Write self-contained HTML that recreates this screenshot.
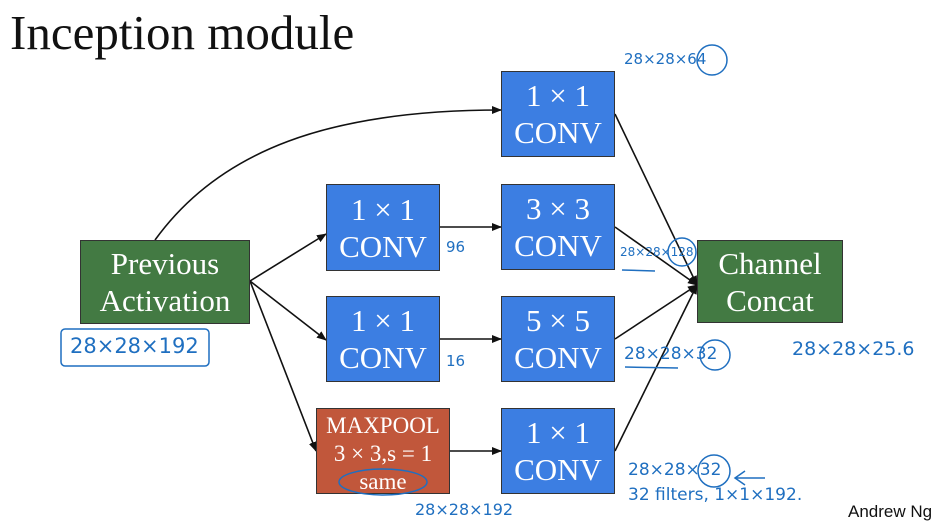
<!DOCTYPE html>
<html><head><meta charset="utf-8"><style>
body{margin:0;background:#fff;width:939px;height:525px;overflow:hidden;position:relative;font-family:"Liberation Serif",serif}
.b{position:absolute;color:#fff;text-align:center;display:flex;flex-direction:column;justify-content:center;box-sizing:border-box;border:1px solid #333;font-size:31px;line-height:37px}
.bl{background:#3c7ee2}
.g{background:#437a43}
.r{background:#c1573b;font-size:23px;line-height:28px}
.h{position:absolute;color:#1f6fc0;font-family:"DejaVu Sans",sans-serif;font-size:15px;white-space:nowrap}
</style></head><body>
<div style="position:absolute;left:10px;top:4px;font-size:49px;color:#111">Inception module</div>
<svg width="939" height="525" style="position:absolute;left:0;top:0">
<defs><marker id="a" markerWidth="10" markerHeight="8" refX="9" refY="4" orient="auto" markerUnits="userSpaceOnUse"><path d="M0,0L10,4L0,8z" fill="#111"/></marker></defs>
<g stroke="#111" stroke-width="1.6" fill="none" marker-end="url(#a)">
<path d="M155,240 C220,150 330,110 501,110"/>
<line x1="250" y1="281" x2="326" y2="234"/>
<line x1="250" y1="281" x2="326" y2="340"/>
<line x1="250" y1="281" x2="316" y2="451"/>
<line x1="440" y1="227" x2="501" y2="227"/>
<line x1="440" y1="339" x2="501" y2="339"/>
<line x1="450" y1="451" x2="501" y2="451"/>
<line x1="615" y1="114" x2="697" y2="285"/>
<line x1="615" y1="227" x2="697" y2="285"/>
<line x1="615" y1="339" x2="697" y2="285"/>
<line x1="615" y1="451" x2="697" y2="285"/>
</g>
<g stroke="#1f6fc0" stroke-width="1.5" fill="none">
<rect x="61" y="329" width="148" height="37" rx="4"/>
<circle cx="712" cy="60" r="15"/>
<circle cx="682" cy="252" r="14"/>
<circle cx="715" cy="355" r="15"/>
<circle cx="714" cy="471" r="16"/>
<line x1="622" y1="270" x2="655" y2="271"/>
<line x1="625" y1="367" x2="678" y2="368"/>
<path d="M735,478 L765,478 M745,471 L735,478 L745,485"/>
</g>
</svg>
<div class="b g" style="left:80px;top:240px;width:170px;height:84px">Previous<br>Activation</div>
<div class="b g" style="left:697px;top:240px;width:146px;height:83px">Channel<br>Concat</div>
<div class="b bl" style="left:501px;top:71px;width:114px;height:86px">1 × 1<br>CONV</div>
<div class="b bl" style="left:326px;top:184px;width:114px;height:87px">1 × 1<br>CONV</div>
<div class="b bl" style="left:501px;top:184px;width:114px;height:86px">3 × 3<br>CONV</div>
<div class="b bl" style="left:326px;top:296px;width:114px;height:86px">1 × 1<br>CONV</div>
<div class="b bl" style="left:501px;top:296px;width:114px;height:86px">5 × 5<br>CONV</div>
<div class="b r" style="left:316px;top:408px;width:134px;height:86px;padding-top:6px">MAXPOOL<br>3 × 3,s = 1<br>same</div>
<div class="b bl" style="left:501px;top:408px;width:114px;height:86px">1 × 1<br>CONV</div>
<svg width="939" height="525" style="position:absolute;left:0;top:0"><ellipse cx="383" cy="482" rx="44" ry="13" stroke="#1f6fc0" stroke-width="1.5" fill="none"/></svg>
<div class="h" style="left:70px;top:334px;font-size:21px">28×28×192</div>
<div class="h" style="left:446px;top:238px">96</div>
<div class="h" style="left:446px;top:352px">16</div>
<div class="h" style="left:624px;top:50px">28×28×64</div>
<div class="h" style="left:620px;top:245px;font-size:12px">28×28×128</div>
<div class="h" style="left:624px;top:344px;font-size:17px">28×28×32</div>
<div class="h" style="left:792px;top:338px;font-size:19px">28×28×25.6</div>
<div class="h" style="left:628px;top:460px;font-size:17px">28×28×32</div>
<div class="h" style="left:628px;top:485px;font-size:17px">32 filters, 1×1×192.</div>
<div class="h" style="left:415px;top:500px;font-size:16px">28×28×192</div>
<div style="position:absolute;left:848px;top:502px;font-family:'Liberation Sans',sans-serif;font-size:17px;color:#111">Andrew Ng</div>
</body></html>
